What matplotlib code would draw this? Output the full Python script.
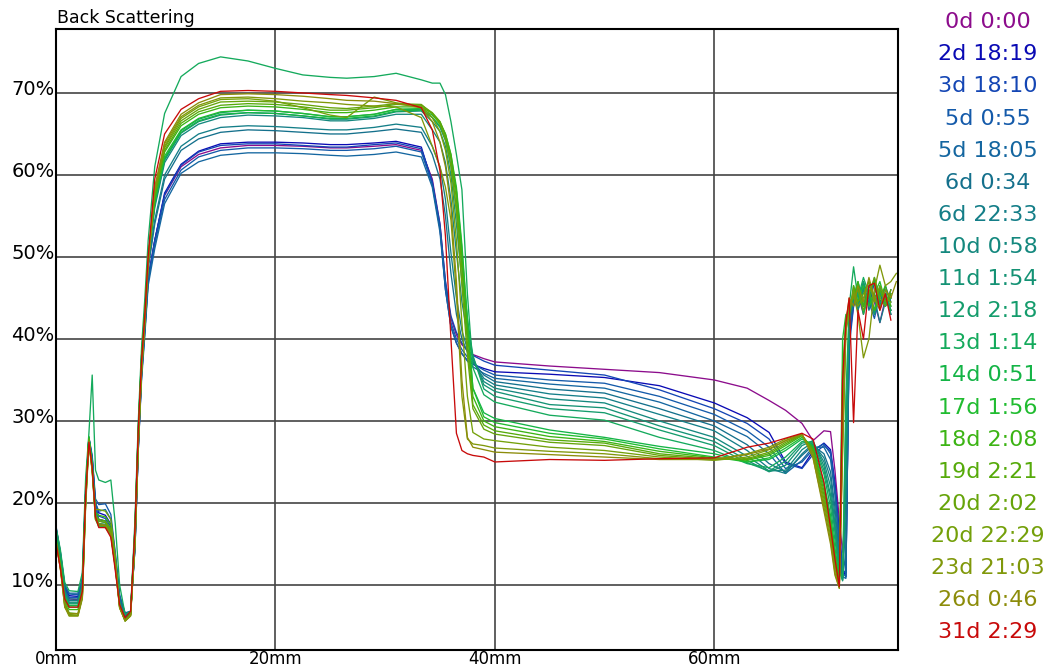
import matplotlib.pyplot as plt
import matplotlib.transforms as mtransforms
import numpy as np

# sample positions along the tube (mm)
pos_mm = [0.0, 0.4, 0.8, 1.2, 2.0, 2.4, 2.7, 3.0, 3.3, 3.6, 3.9, 4.5, 5.0, 5.4, 5.8, 6.3, 6.8,
          7.2, 7.5, 7.8, 8.1, 8.4, 9.0, 9.9, 11.4, 13.0, 15.0,
          17.5, 20.0, 22.5, 25.0, 26.5, 29.0, 31.0, 33.3,
          34.3, 35.0, 35.5, 36.0, 36.5, 37.0, 37.5, 38.0, 39.0,
          40.0, 45.0, 50.0, 55.0, 60.0, 63.0, 65.0, 66.5,
          68.0, 69.0, 70.0, 70.6, 71.0, 71.4, 71.7, 72.0, 72.3, 72.7, 73.1, 73.6, 74.1,
          74.6, 75.1, 75.6, 76.1, 76.6]

labels = ['0d 0:00', '2d 18:19', '3d 18:10', '5d 0:55', '5d 18:05', '6d 0:34', '6d 22:33',
          '10d 0:58', '11d 1:54', '12d 2:18', '13d 1:14', '14d 0:51', '17d 1:56', '18d 2:08',
          '19d 2:21', '20d 2:02', '20d 22:29', '23d 21:03', '26d 0:46', '31d 2:29']

line_colors = ['#8c0c8c', '#0a0ab4', '#1446b4', '#145aaa', '#1466a0', '#14708c', '#147e88',
               '#14887e', '#149274', '#149c6c', '#14aa5c', '#14b446', '#20bc30', '#3cb414',
               '#56aa0a', '#66a40a', '#74a00a', '#80980a', '#8c8c0a', '#c80a0a']

# back scattering (%) per measurement
bs_0d = [16.5, 13.5, 9.5, 8.3, 8.2, 9.8, 20.5, 27.8, 25.0, 19.3, 18.0, 17.8, 16.8, 13.0, 8.2, 6.3, 6.6,
         15.0, 27.0, 36.0, 41.5, 47.5, 52.0, 57.5, 61.0, 62.5, 63.3,
         63.6, 63.6, 63.5, 63.3, 63.3, 63.5, 63.7, 63.0,
         59.5, 54.0, 47.0, 42.5, 40.5, 39.3, 38.6, 38.1, 37.6,
         37.2, 36.7, 36.3, 35.9, 35.0, 34.0, 32.5, 31.3,
         29.7, 27.6, 28.8, 28.7, 24.0, 18.0, 14.0, 20.0, 40.0, 44.0, 45.5, 43.0, 46.0,
         44.5, 42.0, 45.0, 43.5, np.nan]
bs_2d = [17.0, 13.8, 9.8, 8.7, 8.6, 10.3, 21.0, 27.9, 25.5, 20.0, 18.8, 18.5, 17.4, 13.4, 8.5, 6.5, 6.7,
         14.5, 26.5, 35.5, 41.0, 47.0, 52.0, 57.8, 61.3, 62.9, 63.8,
         64.0, 64.0, 63.9, 63.7, 63.7, 63.9, 64.1, 63.4,
         59.0, 53.5, 46.0, 41.5, 39.5, 38.2, 37.4, 36.9, 36.4,
         36.0, 35.7, 35.3, 34.3, 32.2, 30.4, 28.6, 25.0,
         24.3, 26.3, 27.3, 26.5, 22.5, 16.5, 12.0, 11.0, 40.0, 45.5, 44.0, 46.5, 44.0,
         47.0, 44.5, 45.5, 43.0, np.nan]
bs_3d = [16.8, 13.6, 9.6, 8.5, 8.5, 10.2, 20.8, 27.7, 25.2, 19.6, 18.4, 18.1, 17.1, 13.1, 8.4, 6.4, 6.7,
         15.0, 27.0, 36.0, 41.5, 47.5, 52.0, 57.6, 61.2, 62.8, 63.6,
         63.8, 63.8, 63.6, 63.4, 63.4, 63.7, 63.9, 63.2,
         59.2, 54.0, 47.0, 42.8, 40.8, 39.5, 38.6, 38.0, 37.3,
         36.8, 36.2, 35.6, 33.8, 31.5, 29.7, 27.8, 24.8,
         24.2, 25.9, 27.0, 26.3, 22.0, 16.0, 11.8, 11.5, 39.0, 44.0, 46.0, 44.0, 45.5,
         43.0, 46.0, 44.0, 45.0, np.nan]
bs_5d_a = [17.0, 14.0, 9.9, 8.9, 8.8, 10.6, 21.5, 28.0, 25.8, 20.5, 19.8, 19.9, 18.6, 14.0, 8.8, 6.6, 6.8,
           14.5, 26.5, 35.5, 41.0, 47.0, 51.5, 57.0, 60.6, 62.2, 63.0,
           63.3, 63.3, 63.2, 63.0, 63.0, 63.2, 63.5, 62.8,
           58.8, 53.5, 46.5, 42.0, 40.0, 38.7, 37.8, 37.0, 36.2,
           35.6, 35.0, 34.6, 33.0, 30.8, 28.8, 26.8, 24.2,
           25.0, 26.5, 27.2, 26.0, 21.5, 15.5, 11.5, 11.0, 40.5, 45.0, 43.5, 46.0, 44.5,
           42.5, 45.5, 44.0, 46.0, np.nan]
bs_5d_b = [17.2, 14.0, 10.0, 9.0, 9.0, 10.8, 22.0, 28.0, 25.5, 20.0, 19.0, 19.2, 18.0, 13.8, 8.6, 6.5, 6.8,
           14.5, 26.5, 35.0, 40.5, 46.5, 51.0, 56.5, 60.2, 61.6, 62.4,
           62.7, 62.7, 62.6, 62.4, 62.3, 62.5, 62.8, 62.2,
           58.5, 53.0, 46.0, 41.5, 39.5, 38.2, 37.3, 36.6, 35.8,
           35.2, 34.5, 34.0, 32.3, 30.0, 28.1, 26.0, 23.6,
           25.2, 26.8, 26.8, 25.3, 21.0, 14.5, 11.0, 10.8, 41.0, 44.5, 46.5, 44.0, 45.0,
           47.0, 44.0, 45.5, 43.5, np.nan]
bs_6d_a = [16.5, 13.4, 9.4, 8.3, 8.3, 10.0, 21.0, 27.6, 25.0, 19.2, 18.0, 17.8, 16.8, 13.0, 8.2, 6.2, 6.6,
           15.5, 27.5, 36.5, 42.0, 48.5, 54.0, 59.5, 63.0, 64.4, 65.2,
           65.5, 65.4, 65.2, 65.0, 65.0, 65.3, 65.6, 65.2,
           62.5, 59.5, 55.0, 48.0, 43.0, 40.0, 38.4, 37.2, 35.6,
           34.8, 33.9, 33.4, 31.5, 29.4, 27.1, 24.8, 23.8,
           25.8, 27.0, 26.0, 23.8, 19.5, 13.5, 10.8, 14.0, 42.0, 46.0, 44.5, 47.0, 43.5,
           45.5, 44.0, 46.5, 44.5, np.nan]
bs_6d_b = [16.3, 13.2, 9.2, 8.1, 8.1, 9.9, 21.0, 27.8, 25.0, 19.0, 17.8, 17.6, 16.6, 12.8, 8.0, 6.1, 6.6,
           16.0, 28.0, 37.0, 42.5, 49.0, 54.5, 60.0, 63.5, 65.0, 65.8,
           66.0, 65.9, 65.7, 65.5, 65.5, 65.8, 66.2, 65.8,
           63.5, 61.0, 57.0, 50.5, 45.0, 41.0, 38.8, 37.2, 35.2,
           34.4, 33.3, 32.8, 30.8, 28.8, 26.4, 24.2, 23.6,
           26.0, 27.2, 25.5, 23.0, 18.5, 13.0, 10.8, 18.0, 42.5, 44.5, 46.0, 44.0, 46.5,
           45.0, 42.0, 44.5, 45.5, np.nan]
bs_10d = [16.0, 13.0, 9.0, 7.9, 7.9, 9.7, 21.0, 27.9, 24.8, 18.6, 17.5, 17.4, 16.4, 12.6, 7.9, 6.0, 6.6,
          16.5, 28.5, 37.5, 43.0, 49.5, 56.0, 61.5, 64.8, 66.2, 67.0,
          67.3, 67.2, 67.0, 66.6, 66.6, 66.9, 67.4, 67.4,
          65.5, 64.0, 61.5, 57.0, 50.5, 44.5, 40.5, 37.5, 34.8,
          34.0, 32.7, 32.2, 30.0, 28.0, 25.7, 23.9, 24.0,
          26.5, 27.4, 25.0, 22.0, 17.5, 12.5, 10.6, 22.0, 43.0, 45.5, 43.5, 46.0, 44.0,
          47.5, 44.5, 45.0, 44.0, np.nan]
bs_11d = [16.0, 12.9, 8.9, 7.8, 7.8, 9.6, 21.0, 28.0, 24.8, 18.5, 17.4, 17.3, 16.3, 12.5, 7.8, 6.0, 6.6,
          16.5, 28.5, 37.5, 43.0, 49.5, 56.3, 61.8, 65.1, 66.5, 67.3,
          67.6, 67.5, 67.2, 66.8, 66.8, 67.1, 67.7, 67.8,
          66.5, 65.3, 63.5, 60.0, 54.0, 47.0, 41.5, 37.8, 34.4,
          33.6, 32.0, 31.6, 29.4, 27.5, 25.2, 23.8, 24.6,
          27.0, 27.6, 24.5, 21.0, 17.0, 12.0, 10.5, 26.0, 43.0, 45.0, 47.0, 44.5, 45.5,
          43.5, 46.5, 44.0, 45.0, np.nan]
bs_12d = [15.8, 12.8, 8.8, 7.7, 7.7, 9.5, 21.0, 28.0, 24.6, 18.4, 17.3, 17.2, 16.2, 12.4, 7.7, 5.9, 6.6,
          17.0, 29.0, 38.0, 43.5, 50.0, 56.5, 62.0, 65.4, 66.8, 67.6,
          67.9, 67.8, 67.5, 67.1, 67.1, 67.4, 68.0, 68.0,
          67.0, 65.8, 64.2, 61.2, 56.0, 49.0, 42.5, 38.0, 33.9,
          33.0, 31.5, 31.0, 28.9, 27.0, 24.9, 23.9, 25.1,
          27.3, 27.5, 24.0, 20.5, 16.5, 11.8, 10.6, 30.0, 42.0, 46.5, 44.0, 47.0, 45.0,
          43.0, 45.5, 46.0, 43.0, np.nan]
bs_13d = [17.0, 14.3, 10.3, 9.3, 9.2, 11.5, 23.0, 28.5, 35.6, 24.0, 22.8, 22.5, 22.8, 17.5, 10.0, 6.4, 6.8,
          18.0, 30.0, 39.0, 45.0, 52.0, 61.0, 67.5, 72.0, 73.6, 74.4,
          73.9, 73.0, 72.2, 71.9, 71.8, 72.0, 72.4, 71.6,
          71.2, 71.2, 69.8, 66.5, 62.5, 58.2, 45.5, 36.5, 33.2,
          32.3, 30.7, 30.1, 28.0, 26.4, 24.8, 24.3, 25.6,
          27.5, 27.3, 23.5, 19.5, 15.5, 11.5, 11.0, 33.0, 44.0, 48.8, 45.0, 47.5, 45.5,
          43.5, 46.0, 44.0, 45.5, np.nan]
bs_14d = [15.8, 12.7, 8.6, 7.5, 7.5, 9.4, 21.0, 28.0, 24.5, 18.2, 17.2, 17.1, 16.1, 12.3, 7.6, 5.8, 6.5,
          17.0, 29.0, 38.0, 43.5, 50.0, 56.5, 62.0, 65.2, 66.6, 67.4,
          67.6, 67.5, 67.2, 66.9, 66.9, 67.2, 67.8, 67.9,
          67.0, 66.0, 64.5, 62.0, 58.0, 51.0, 42.0, 34.0, 31.0,
          30.3, 28.9, 28.0, 26.9, 26.0, 25.0, 25.3, 26.4,
          27.8, 27.0, 22.5, 18.5, 14.5, 11.0, 30.0, 42.0, 43.5, 45.0, 46.5, 43.0, 45.5,
          47.0, 44.0, 45.0, 43.5, np.nan]
bs_17d = [15.7, 12.6, 8.4, 7.3, 7.3, 9.3, 21.0, 28.1, 24.4, 18.0, 17.1, 17.0, 16.0, 12.2, 7.5, 5.8, 6.5,
          17.0, 29.0, 38.0, 43.5, 50.0, 56.8, 62.3, 65.5, 66.9, 67.7,
          67.9, 67.8, 67.5, 67.1, 67.1, 67.4, 68.0, 68.1,
          67.3, 66.3, 65.0, 62.5, 58.5, 51.5, 42.5, 34.0, 30.5,
          29.8, 28.5, 27.8, 26.6, 25.6, 25.0, 25.5, 26.7,
          28.0, 26.8, 22.0, 18.0, 14.0, 10.5, 40.0, 43.0, 42.5, 46.0, 44.5, 46.5, 44.0,
          45.5, 47.0, 44.5, 45.0, np.nan]
bs_18d = [15.5, 12.4, 8.1, 7.0, 7.0, 9.0, 20.5, 27.8, 24.3, 18.8, 18.5, 18.3, 17.3, 13.0, 7.4, 5.7, 6.4,
          16.5, 28.5, 37.5, 43.0, 50.0, 57.2, 62.8, 66.0, 67.4, 68.2,
          68.4, 68.3, 68.0, 67.6, 67.6, 67.9, 68.3, 68.3,
          67.5, 66.5, 65.0, 62.5, 58.0, 50.0, 41.0, 33.0, 30.0,
          29.3, 28.1, 27.5, 26.3, 25.5, 25.2, 25.8, 27.0,
          28.2, 26.6, 21.5, 17.5, 13.5, 10.3, 36.0, 42.5, 44.0, 45.0, 47.0, 44.0, 46.0,
          43.5, 45.0, 46.5, 44.0, np.nan]
bs_19d = [15.5, 12.3, 7.9, 6.6, 6.5, 8.8, 20.5, 27.8, 24.2, 18.5, 18.0, 17.8, 16.8, 12.8, 7.4, 5.7, 6.4,
          16.0, 28.0, 37.0, 43.0, 50.0, 57.5, 63.0, 66.3, 67.7, 68.5,
          68.7, 68.6, 68.3, 67.9, 67.9, 68.2, 68.6, 68.5,
          67.6, 66.5, 64.8, 62.0, 57.0, 48.5, 39.5, 32.0, 29.5,
          28.8, 27.7, 27.3, 26.0, 25.4, 25.3, 26.0, 27.2,
          28.3, 26.4, 21.0, 17.0, 13.0, 10.2, 33.0, 42.0, 43.0, 46.5, 44.5, 45.5, 47.0,
          45.0, 46.0, 44.5, 45.5, np.nan]
bs_20d_a = [15.4, 12.2, 7.7, 6.4, 6.3, 8.6, 20.0, 27.6, 24.0, 18.3, 17.8, 17.6, 16.6, 12.6, 7.3, 5.6, 6.3,
            15.5, 27.5, 36.5, 42.5, 49.5, 57.8, 63.3, 66.6, 68.0, 68.9,
            69.0, 68.9, 68.6, 68.2, 68.1, 68.4, 68.7, 68.6,
            67.5, 66.2, 64.3, 61.0, 55.5, 46.5, 38.0, 31.5, 29.0,
            28.4, 27.4, 27.0, 25.8, 25.3, 25.4, 26.2, 27.4,
            28.3, 26.2, 20.5, 16.5, 12.5, 10.0, 30.0, 41.5, 44.5, 45.0, 46.0, 43.5, 45.5,
            47.5, 45.0, 44.0, 46.0, np.nan]
bs_20d_b = [15.3, 12.1, 7.5, 6.3, 6.3, 8.5, 20.0, 27.5, 24.0, 19.2, 19.2, 19.0, 18.0, 13.5, 7.3, 5.6, 6.3,
            15.0, 27.0, 36.0, 42.0, 49.0, 58.0, 63.5, 66.9, 68.3, 69.2,
            69.3, 69.0, 68.2, 67.3, 67.0, 69.5, 68.8, 68.4,
            67.0, 65.3, 63.0, 59.0, 52.0, 42.0, 33.0, 28.6, 27.8,
            27.6, 26.8, 26.4, 25.6, 25.2, 25.6, 26.5, 27.6,
            28.3, 26.0, 20.0, 16.0, 12.0, 9.8, 28.0, 41.0, 43.0, 46.0, 44.0, 45.0, 47.0,
            44.5, 46.5, 45.0, 44.5, np.nan]
bs_23d = [15.3, 12.0, 7.3, 6.2, 6.2, 8.3, 19.5, 27.3, 23.8, 18.0, 17.5, 17.3, 16.3, 12.3, 7.2, 5.6, 6.2,
          15.0, 27.0, 36.0, 42.0, 49.0, 58.3, 63.8, 67.1, 68.5, 69.4,
          69.5, 69.3, 69.0, 68.8, 68.6, 68.4, 68.3, 67.0,
          63.5, 61.0, 58.5, 54.5, 45.5, 33.0, 27.8, 27.2, 27.0,
          26.7, 26.3, 26.0, 25.4, 25.3, 26.0, 26.8, 27.8,
          28.4, 25.5, 19.5, 15.5, 11.5, 9.6, 26.0, 41.0, 44.0, 45.5, 43.0, 37.7, 40.0,
          46.0, 49.0, 46.5, 47.0, 48.0]
bs_26d = [15.2, 12.0, 7.3, 6.5, 6.5, 8.5, 20.0, 27.5, 24.0, 18.0, 17.3, 17.2, 16.2, 12.2, 7.2, 5.7, 6.3,
          15.5, 27.5, 36.5, 42.5, 49.5, 58.5, 64.0, 67.4, 68.8, 69.8,
          69.9, 69.8, 69.6, 69.3, 69.1, 69.0, 68.7, 68.2,
          66.5, 64.0, 61.0, 56.0, 47.0, 35.0, 28.0, 26.8, 26.5,
          26.2, 25.9, 25.6, 25.3, 25.3, 25.9, 26.6, 27.6,
          28.4, 25.6, 19.0, 15.0, 11.2, 9.6, 27.0, 42.0, 45.0, 44.0, 46.5, 44.5, 47.5,
          45.0, 43.5, 46.0, 45.0, 47.0]
bs_31d = [15.1, 12.0, 8.3, 7.3, 7.3, 9.2, 21.0, 27.4, 24.4, 18.3, 17.0, 17.0, 15.8, 11.8, 7.6, 6.0, 6.8,
          17.0, 29.0, 37.4, 43.0, 50.0, 59.5, 65.0, 68.0, 69.3, 70.2,
          70.3, 70.2, 70.0, 69.8, 69.7, 69.4, 69.1, 68.2,
          65.5, 60.5, 52.5, 40.0, 28.5, 26.4, 26.0, 25.8, 25.6,
          25.0, 25.3, 25.2, 25.4, 25.5, 26.8, 27.3, 27.9,
          28.5, 27.8, 22.5, 17.0, 13.2, 9.8, 35.0, 42.0, 45.0, 29.8, 43.5, 40.0, 46.5,
          46.8, 43.5, 45.5, 42.3, np.nan]

profiles = [bs_0d, bs_2d, bs_3d, bs_5d_a, bs_5d_b, bs_6d_a, bs_6d_b, bs_10d, bs_11d, bs_12d,
            bs_13d, bs_14d, bs_17d, bs_18d, bs_19d, bs_20d_a, bs_20d_b, bs_23d, bs_26d, bs_31d]

x_ticks = [0, 20, 40, 60]
x_tick_labels = ['0mm', '20mm', '40mm', '60mm']
y_ticks = [10, 20, 30, 40, 50, 60, 70]
y_tick_labels = ['10%', '20%', '30%', '40%', '50%', '60%', '70%']

W, H = 1058, 670
fig = plt.figure(figsize=(W / 100, H / 100), dpi=100)
ax = fig.add_axes([56 / W, 20 / H, 842 / W, 621 / H])

for y, c in zip(profiles, line_colors):
    ax.plot(pos_mm, y, color=c, lw=0.95)

ax.set_xlim(0, 76.75)
ax.set_ylim(2.07, 77.8)
ax.set_xticks(x_ticks)
ax.set_xticklabels(x_tick_labels)
ax.set_yticks(y_ticks)
ax.set_yticklabels(y_tick_labels)
ax.tick_params(axis='both', length=0)
ax.tick_params(axis='x', pad=0.2, labelsize=12)
ax.tick_params(axis='y', pad=1, labelsize=14)

# percent labels sit with their baseline just under the grid line
shift_down = mtransforms.ScaledTranslation(0, -2 / 100, fig.dpi_scale_trans)
for t in ax.get_yticklabels():
    t.set_verticalalignment('baseline')
    t.set_transform(t.get_transform() + shift_down)

ax.grid(True, color='#444444', lw=1.2)
ax.set_axisbelow(True)
for s in ax.spines.values():
    s.set_linewidth(1.5)
    s.set_color('black')

fig.text(57 / W, 1 - 23 / H, 'Back Scattering', fontsize=12.5, ha='left', va='baseline')

# time labels, coloured like their curves
for i, (lab, c) in enumerate(zip(labels, line_colors)):
    fig.text(988 / W, 1 - (28.3 + i * 32.1) / H, lab, color=c, fontsize=16,
             ha='center', va='baseline')

fig.savefig('out.png', dpi=100)
